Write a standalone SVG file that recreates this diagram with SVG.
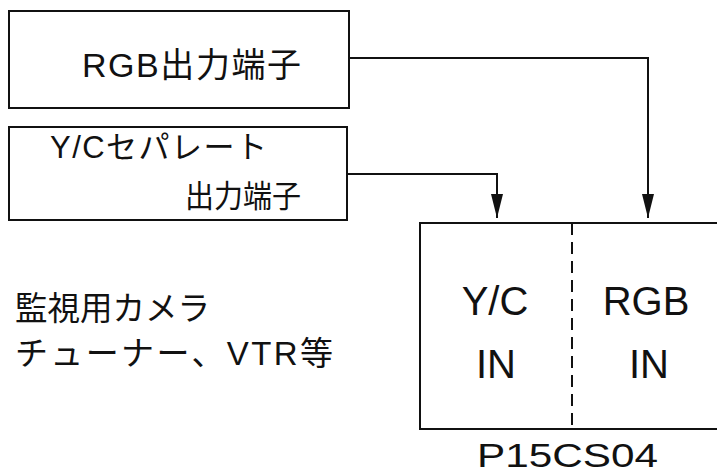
<svg xmlns="http://www.w3.org/2000/svg" width="717" height="473" viewBox="0 0 717 473">
<style>
.box{fill:#fff;stroke:#111;stroke-width:2}
.ln{fill:none;stroke:#111;stroke-width:2}
.t{font-family:"Liberation Sans","Noto Sans CJK JP",sans-serif;fill:#111}
</style>
<defs>
<marker id="ah" viewBox="0 0 24 12" refX="24" refY="6" markerWidth="24" markerHeight="12" markerUnits="userSpaceOnUse" orient="auto">
<path d="M0,0 L24,6 L0,12 Z" fill="#111"/>
</marker>
</defs>
<rect width="717" height="473" fill="#fff"/>
<g id="rgb-out">
<rect class="box" x="9" y="11" width="340" height="97"/>
<text class="t" x="82" y="77" font-size="34" textLength="219" lengthAdjust="spacing">RGB出力端子</text>
</g>
<g id="yc-out">
<rect class="box" x="9" y="127" width="338" height="93"/>
<text class="t" x="50" y="158" font-size="31" textLength="217" lengthAdjust="spacing">Y/Cセパレート</text>
<text class="t" x="185" y="207" font-size="31" textLength="116" lengthAdjust="spacingAndGlyphs">出力端子</text>
</g>
<g id="sources">
<text class="t" x="15" y="320" font-size="33" textLength="195" lengthAdjust="spacingAndGlyphs">監視用カメラ</text>
<text class="t" x="15" y="365" font-size="33" textLength="318" lengthAdjust="spacing">チューナー、VTR等</text>
</g>
<g id="p15cs04">
<rect class="box" x="420" y="223" width="310" height="206"/>
<line x1="572" y1="223" x2="572" y2="429" stroke="#111" stroke-width="2" stroke-dasharray="12,7"/>
<text class="t" x="495" y="315" font-size="40" text-anchor="middle">Y/C</text>
<text class="t" x="496" y="378" font-size="40" text-anchor="middle">IN</text>
<text class="t" x="646" y="315" font-size="40" text-anchor="middle">RGB</text>
<text class="t" x="649" y="378" font-size="40" text-anchor="middle">IN</text>
<text class="t" x="477" y="467" font-size="33" textLength="181" lengthAdjust="spacingAndGlyphs">P15CS04</text>
</g>
<g id="connectors">
<polyline class="ln" points="349,58 648,58 648,218" marker-end="url(#ah)"/>
<polyline class="ln" points="347,174 497,174 497,218" marker-end="url(#ah)"/>
</g>
</svg>
